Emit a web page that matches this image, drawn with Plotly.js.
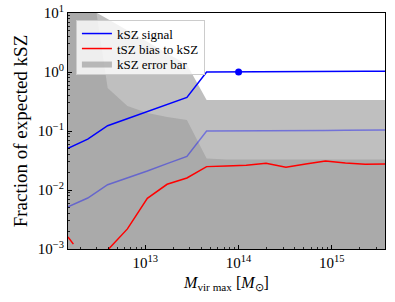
<!DOCTYPE html>
<html>
<head>
<meta charset="utf-8">
<script src="https://cdn.plot.ly/plotly-3.0.1.min.js"></script>
<style>
  html, body { margin: 0; padding: 0; background: #ffffff; }
  #chart { width: 395px; height: 302px; }
</style>
</head>
<body>
<div id="chart"></div>
<script>
// ---- Data ----
const massGrid = [1.48e12, 2.41e12, 3.94e12, 6.42e12, 1.05e13, 1.71e13, 2.79e13, 4.54e13,
                  7.41e13, 1.21e14, 1.97e14, 3.22e14, 5.25e14, 8.56e14, 1.40e15, 2.28e15, 3.72e15];
const kszSignal = [0.051, 0.073, 0.123, 0.161, 0.213, 0.283, 0.372, 1.0,
                   1.0, 1.005, 1.01, 1.012, 1.015, 1.02, 1.022, 1.025, 1.03];
const kszSignalTenth = [0.0052, 0.0073, 0.0123, 0.016, 0.021, 0.028, 0.037, 0.100,
                        0.100, 0.101, 0.101, 0.101, 0.102, 0.102, 0.103, 0.103, 0.104];
const tszBias = [-0.0016, -0.00057, 0.00096, 0.00219, 0.00724, 0.0125, 0.016, 0.0249,
                 0.0255, 0.0263, 0.0284, 0.0243, 0.0276, 0.031, 0.0287, 0.0272, 0.0276];
const kszErr = [30, 12.3, 7.9, 5.0, 3.25, 2.08, 1.34, 0.335,
                0.335, 0.335, 0.335, 0.335, 0.335, 0.335, 0.335, 0.335, 0.335];
const kszErrTenth = [150, 100, 0.536, 0.265, 0.202, 0.173, 0.153, 0.0342,
                     0.033, 0.033, 0.033, 0.033, 0.033, 0.033, 0.033, 0.033, 0.033];
const markerMass = [1e14];
const markerFrac = [1.0];

const xTickVals = [1e13, 1e14, 1e15];
const xTickText = ['10<sup>13</sup>', '10<sup>14</sup>', '10<sup>15</sup>'];
const yTickVals = [1e-3, 1e-2, 1e-1, 1, 10];
const yTickText = ['10<sup>\u22123</sup>', '10<sup>\u22122</sup>', '10<sup>\u22121</sup>', '10<sup>0</sup>', '10<sup>1</sup>'];
const xMinorVals = [2e12,3e12,4e12,5e12,6e12,7e12,8e12,9e12,
                    2e13,3e13,4e13,5e13,6e13,7e13,8e13,9e13,
                    2e14,3e14,4e14,5e14,6e14,7e14,8e14,9e14,
                    2e15,3e15];
const yMinorVals = [2e-3,3e-3,4e-3,5e-3,6e-3,7e-3,8e-3,9e-3,
                    2e-2,3e-2,4e-2,5e-2,6e-2,7e-2,8e-2,9e-2,
                    2e-1,3e-1,4e-1,5e-1,6e-1,7e-1,8e-1,9e-1,
                    2,3,4,5,6,7,8,9];

// floor for the shaded bands (below the visible range)
const floorVal = massGrid.map(() => 1e-6);
const tszPos = tszBias.map(v => (v > 0 ? v : null));
const tszNeg = tszBias.map(v => (v < 0 ? Math.abs(v) : null));

const FONT = 'Liberation Serif, Times New Roman, serif';

const traces = [
  { x: massGrid, y: floorVal, mode: 'lines', line: { width: 0 }, showlegend: false, hoverinfo: 'skip' },
  { x: massGrid, y: kszErr, mode: 'lines', fill: 'tonexty', fillcolor: 'rgba(128,128,128,0.5)',
    line: { width: 0 }, name: 'kSZ error bar', legendrank: 3 },
  { x: massGrid, y: floorVal, mode: 'lines', line: { width: 0 }, showlegend: false, hoverinfo: 'skip' },
  { x: massGrid, y: kszErrTenth, mode: 'lines', fill: 'tonexty', fillcolor: 'rgba(128,128,128,0.34)',
    line: { width: 0 }, showlegend: false },
  { x: massGrid, y: kszSignalTenth, mode: 'lines', line: { color: 'rgba(0,0,255,0.4)', width: 1.5 }, showlegend: false },
  { x: massGrid, y: tszPos, mode: 'lines', line: { color: '#ff0000', width: 1.5 },
    name: 'tSZ bias to kSZ', legendrank: 2 },
  { x: massGrid, y: tszNeg, mode: 'lines', line: { color: '#ff0000', width: 1.5, dash: 'dash' }, showlegend: false },
  { x: massGrid, y: kszSignal, mode: 'lines', line: { color: '#0000ff', width: 1.5 },
    name: 'kSZ signal', legendrank: 1 },
  { x: markerMass, y: markerFrac, mode: 'markers', marker: { color: '#0000ff', size: 7 }, showlegend: false }
];

const layout = {
  width: 395, height: 302,
  margin: { l: 68, r: 10, t: 13, b: 53, pad: 0 },
  paper_bgcolor: '#ffffff', plot_bgcolor: '#ffffff',
  font: { family: FONT, size: 15, color: '#000000' },
  showlegend: true,
  legend: {
    x: 0.025, y: 0.97, xanchor: 'left', yanchor: 'top',
    bgcolor: 'rgba(255,255,255,0.8)', bordercolor: '#cccccc', borderwidth: 1,
    font: { family: FONT, size: 13, color: '#000000' },
    traceorder: 'normal', itemwidth: 30
  },
  xaxis: {
    type: 'log', range: [Math.log10(1.48e12), Math.log10(3.72e15)],
    showgrid: false, zeroline: false,
    showline: true, mirror: true, linecolor: '#000000', linewidth: 1,
    tickmode: 'array', tickvals: xTickVals, ticktext: xTickText,
    ticks: 'inside', ticklen: 4, tickwidth: 1, tickcolor: '#000000',
    minor: { tickmode: 'array', tickvals: xMinorVals, ticks: 'inside', ticklen: 2, tickwidth: 0.8, tickcolor: '#000000', showgrid: false },
    tickfont: { family: FONT, size: 15 },
    title: { text: '<i>M</i><sub>vir max</sub> [<i>M</i><sub>\u2299</sub>]', font: { family: FONT, size: 16 }, standoff: 6 }
  },
  yaxis: {
    type: 'log', range: [-3, 1],
    showgrid: false, zeroline: false,
    showline: true, mirror: true, linecolor: '#000000', linewidth: 1,
    tickmode: 'array', tickvals: yTickVals, ticktext: yTickText,
    ticks: 'inside', ticklen: 4, tickwidth: 1, tickcolor: '#000000',
    minor: { tickmode: 'array', tickvals: yMinorVals, ticks: 'inside', ticklen: 2, tickwidth: 0.8, tickcolor: '#000000', showgrid: false },
    tickfont: { family: FONT, size: 15 },
    title: { text: 'Fraction of expected kSZ', font: { family: FONT, size: 19 }, standoff: 5 }
  }
};

Plotly.newPlot('chart', traces, layout, { displayModeBar: false, staticPlot: true }).then(gd => {
  // tighten legend row spacing to match the compact reference legend
  const items = Array.from(gd.querySelectorAll('.legend .traces'));
  if (items.length < 2) return;
  const parse = el => {
    const m = /translate\(\s*([-\d.e]+)[\s,]+([-\d.e]+)\s*\)/.exec(el.getAttribute('transform') || '');
    return m ? [parseFloat(m[1]), parseFloat(m[2])] : null;
  };
  const pos = items.map(parse);
  if (pos.some(p => !p)) return;
  const order = pos.map((p, i) => i).sort((a, b) => pos[a][1] - pos[b][1]);
  const gap = 15;
  const y0 = pos[order[0]][1] - 2.5;
  order.forEach((idx, k) => items[idx].setAttribute('transform', 'translate(' + pos[idx][0] + ',' + (y0 + k * gap) + ')'));
  const bg = gd.querySelector('.legend .bg');
  if (bg) {
    bg.setAttribute('height', y0 + gap * (order.length - 1) + 10.5);
  }
});
</script>
</body>
</html>
